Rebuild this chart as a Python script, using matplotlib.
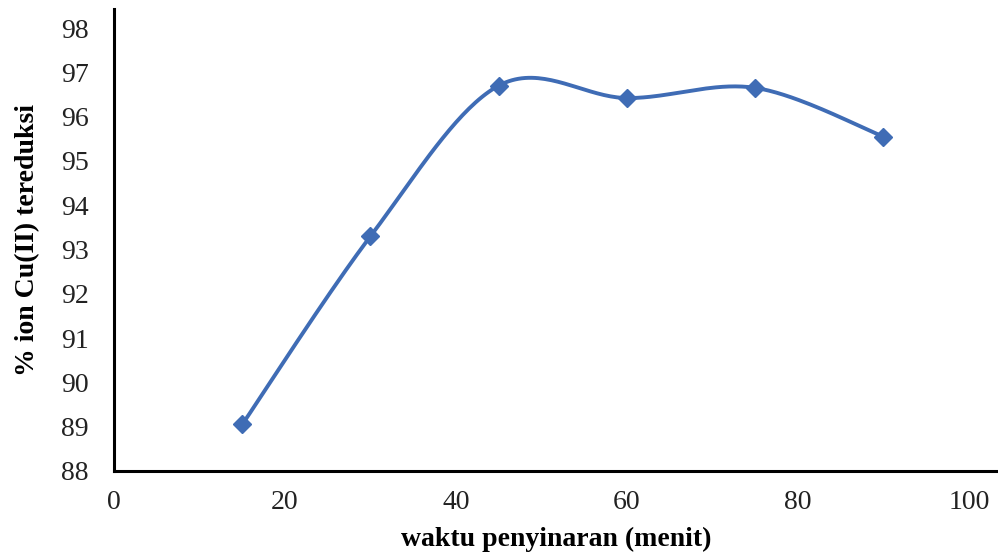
import numpy as np
import matplotlib
matplotlib.use('Agg')
import matplotlib.pyplot as plt

waktu = [15, 30, 45, 60, 75, 90]
reduksi = [89.05, 93.3, 96.7, 96.42, 96.65, 95.55]
x_ticks = [0, 20, 40, 60, 80, 100]
y_ticks = [88, 89, 90, 91, 92, 93, 94, 95, 96, 97, 98]
y_labels = ['88', '89', '90', '91', '92', '93', '94', '95', '96', '97', '98']

col = '#3f6cb5'


def smooth(xs, ys, n=40):
    # excel-like smoothed line (catmull-rom as cubic bezier)
    xs = np.array(xs, float)
    ys = np.array(ys, float)
    px = np.concatenate([[xs[0]], xs, [xs[-1]]])
    py = np.concatenate([[ys[0]], ys, [ys[-1]]])
    outx, outy = [], []
    t = np.linspace(0, 1, n)
    for i in range(1, len(px) - 2):
        p0 = np.array([px[i], py[i]])
        p3 = np.array([px[i + 1], py[i + 1]])
        c1 = p0 + (np.array([px[i + 1], py[i + 1]]) - np.array([px[i - 1], py[i - 1]])) / 6
        c2 = p3 - (np.array([px[i + 2], py[i + 2]]) - np.array([px[i], py[i]])) / 6
        b = ((1 - t) ** 3)[:, None] * p0 + (3 * (1 - t) ** 2 * t)[:, None] * c1 \
            + (3 * (1 - t) * t ** 2)[:, None] * c2 + (t ** 3)[:, None] * p3
        outx.extend(b[:, 0])
        outy.extend(b[:, 1])
    return outx, outy


plt.rcParams['font.family'] = ['Liberation Serif', 'DejaVu Serif']

fig = plt.figure(figsize=(9.98, 5.59), dpi=100)
ax = fig.add_axes([114 / 998, 1 - 471 / 559, (998 - 114) / 998, (471 - 9) / 559])

sx, sy = smooth(waktu, reduksi)
ax.plot(sx, sy, color=col, linewidth=2.8, solid_capstyle='round')
ax.plot(waktu, reduksi, linestyle='none', marker='D', markersize=9.5, color=col)

ax.set_xlim(0, 103.4)
ax.set_ylim(88, 98.43)
ax.set_xticks(x_ticks)
ax.set_yticks(y_ticks)
ax.set_yticklabels(y_labels)
ax.tick_params(length=0, labelsize=20, colors='#222222')
ax.tick_params(axis='x', pad=14)
ax.tick_params(axis='y', pad=18)

for s in ['top', 'right']:
    ax.spines[s].set_visible(False)
for s in ['left', 'bottom']:
    ax.spines[s].set_linewidth(2.2)
    ax.spines[s].set_color('black')

ax.set_xlabel('waktu penyinaran (menit)', fontsize=20, fontweight='bold', labelpad=8)
ax.set_ylabel('% ion Cu(II) tereduksi', fontsize=20, fontweight='bold', labelpad=15)

plt.savefig('out.png', dpi=100)
plt.close()
